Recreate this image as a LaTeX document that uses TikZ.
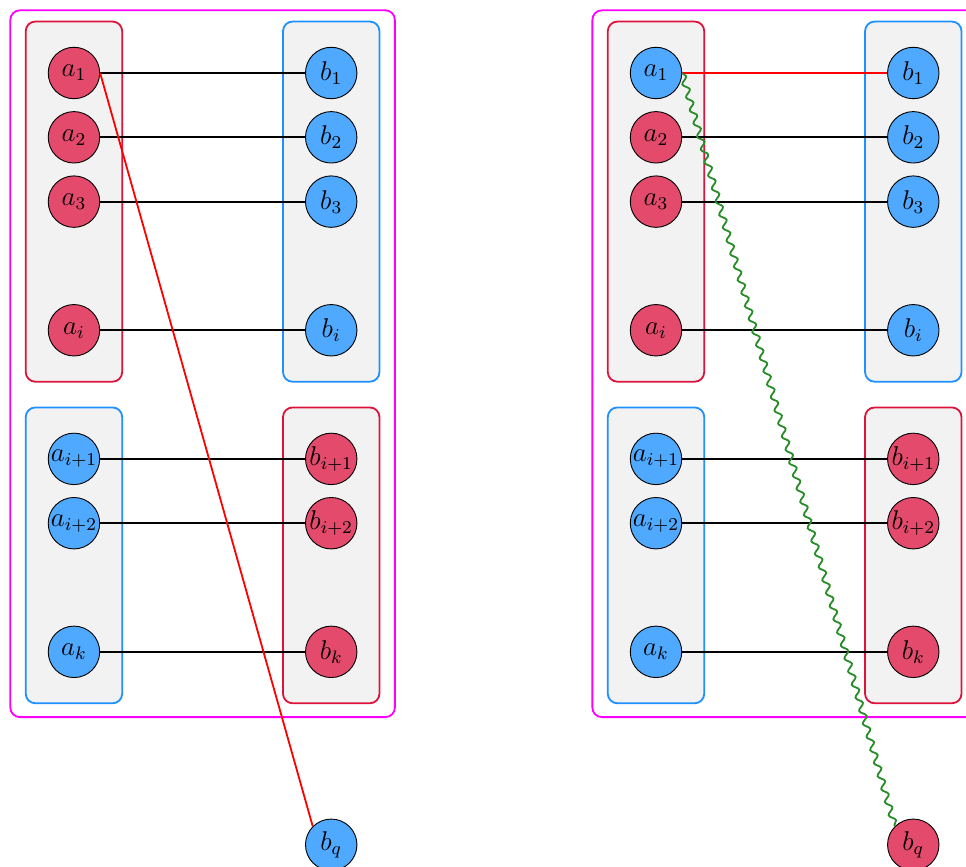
\documentclass[tikz,border=0pt]{standalone}
\usepackage{amsmath,amssymb}
\usepackage{tikz}
\usetikzlibrary{decorations.pathmorphing}
\definecolor{vred}{RGB}{227,74,107}
\definecolor{vblue}{RGB}{78,169,255}
\definecolor{gred}{RGB}{220,20,60}
\definecolor{gblue}{RGB}{30,144,255}
\definecolor{wgreen}{RGB}{40,140,40}
\definecolor{omag}{RGB}{255,0,255}
\tikzset{
  rv/.style={circle,draw,thin,fill=vred,minimum size=0.8cm,inner sep=0pt,font=\large},
  bv/.style={circle,draw,thin,fill=vblue,minimum size=0.8cm,inner sep=0pt,font=\large},
  rgrp/.style={draw=gred,thick,fill=black!5,rounded corners=0.15cm},
  bgrp/.style={draw=gblue,thick,fill=black!5,rounded corners=0.15cm},
  outer/.style={draw=omag,thick,rounded corners=0.15cm},
  link/.style={thick},
  wave/.style={wgreen,thick,decorate,decoration={snake,amplitude=1.3pt,segment length=6pt}}
}
\begin{document}
\begin{tikzpicture}
\useasboundingbox (0,0) rectangle (15.02,-13.48);
\draw[outer] (0.16,-0.16) rectangle (6.14,-11.15);
\draw[rgrp] (0.40,-0.335) rectangle (1.90,-5.935);
\draw[bgrp] (4.40,-0.335) rectangle (5.90,-5.935);
\draw[bgrp] (0.40,-6.335) rectangle (1.90,-10.935);
\draw[rgrp] (4.40,-6.335) rectangle (5.90,-10.935);
\node[rv] (la1) at (1.15,-1.135) {$a_1$};
\node[rv] (la2) at (1.15,-2.135) {$a_2$};
\node[rv] (la3) at (1.15,-3.135) {$a_3$};
\node[rv] (lai) at (1.15,-5.135) {$a_i$};
\node[bv] (lai1) at (1.15,-7.135) {$a_{i+1}$};
\node[bv] (lai2) at (1.15,-8.135) {$a_{i+2}$};
\node[bv] (lak) at (1.15,-10.135) {$a_k$};
\node[bv] (lb1) at (5.15,-1.135) {$b_1$};
\node[bv] (lb2) at (5.15,-2.135) {$b_2$};
\node[bv] (lb3) at (5.15,-3.135) {$b_3$};
\node[bv] (lbi) at (5.15,-5.135) {$b_i$};
\node[rv] (lbi1) at (5.15,-7.135) {$b_{i+1}$};
\node[rv] (lbi2) at (5.15,-8.135) {$b_{i+2}$};
\node[rv] (lbk) at (5.15,-10.135) {$b_k$};
\node[bv] (lbq) at (5.15,-13.135) {$b_q$};
\draw[link] (la1) -- (lb1);
\draw[link] (la2) -- (lb2);
\draw[link] (la3) -- (lb3);
\draw[link] (lai) -- (lbi);
\draw[link] (lai1) -- (lbi1);
\draw[link] (lai2) -- (lbi2);
\draw[link] (lak) -- (lbk);
\draw[link,red] (la1.east) -- (lbq.north west);
\draw[outer] (9.21,-0.16) rectangle (15.19,-11.15);
\draw[rgrp] (9.45,-0.335) rectangle (10.95,-5.935);
\draw[bgrp] (13.45,-0.335) rectangle (14.95,-5.935);
\draw[bgrp] (9.45,-6.335) rectangle (10.95,-10.935);
\draw[rgrp] (13.45,-6.335) rectangle (14.95,-10.935);
\node[bv] (ra1) at (10.2,-1.135) {$a_1$};
\node[rv] (ra2) at (10.2,-2.135) {$a_2$};
\node[rv] (ra3) at (10.2,-3.135) {$a_3$};
\node[rv] (rai) at (10.2,-5.135) {$a_i$};
\node[bv] (rai1) at (10.2,-7.135) {$a_{i+1}$};
\node[bv] (rai2) at (10.2,-8.135) {$a_{i+2}$};
\node[bv] (rak) at (10.2,-10.135) {$a_k$};
\node[bv] (rb1) at (14.2,-1.135) {$b_1$};
\node[bv] (rb2) at (14.2,-2.135) {$b_2$};
\node[bv] (rb3) at (14.2,-3.135) {$b_3$};
\node[bv] (rbi) at (14.2,-5.135) {$b_i$};
\node[rv] (rbi1) at (14.2,-7.135) {$b_{i+1}$};
\node[rv] (rbi2) at (14.2,-8.135) {$b_{i+2}$};
\node[rv] (rbk) at (14.2,-10.135) {$b_k$};
\node[rv] (rbq) at (14.2,-13.135) {$b_q$};
\draw[link,red] (ra1) -- (rb1);
\draw[link] (ra2) -- (rb2);
\draw[link] (ra3) -- (rb3);
\draw[link] (rai) -- (rbi);
\draw[link] (rai1) -- (rbi1);
\draw[link] (rai2) -- (rbi2);
\draw[link] (rak) -- (rbk);
\draw[wave] (ra1.east) -- (rbq.north west);
\end{tikzpicture}
\end{document}
